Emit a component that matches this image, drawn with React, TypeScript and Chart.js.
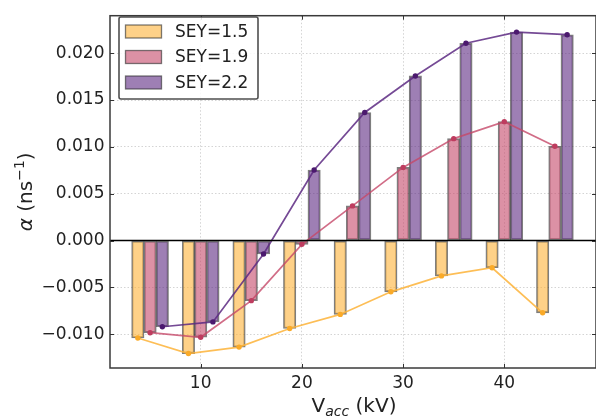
import React, { useEffect, useRef } from 'react';
import { Chart, registerables } from 'chart.js';

Chart.register(...registerables);

const voltages = [5, 10, 15, 20, 25, 30, 35, 40, 45];
const sey15 = [-0.0104, -0.01206, -0.01137, -0.00938, -0.00788, -0.00547, -0.00377, -0.0029, -0.00771];
const sey19 = [-0.00983, -0.01032, -0.00641, -0.0004, 0.0037, 0.00781, 0.01088, 0.01269, 0.01007];
const sey22 = [-0.0092, -0.00868, -0.00143, 0.00753, 0.01367, 0.01757, 0.02106, 0.02225, 0.02197];
const seriesLabels = ['SEY=1.5', 'SEY=1.9', 'SEY=2.2'];
const xTicks = [10, 20, 30, 40];
const yTicks = [-0.01, -0.005, 0, 0.005, 0.01, 0.015, 0.02];

const FONT = '"DejaVu Sans", sans-serif';
const barFills = ['rgba(253,179,56,0.6)', 'rgba(197,72,105,0.6)', 'rgba(93,42,130,0.6)'];
const lineColors = ['rgba(253,179,56,0.85)', 'rgba(197,72,105,0.8)', 'rgba(93,42,130,0.85)'];
const pointColors = ['rgb(250,170,40)', 'rgb(190,60,95)', 'rgb(75,25,110)'];
const edgeColor = 'rgba(40,40,40,0.6)';
const groupOffsets = [-1.21, 0, 1.21];

const fmtY = (v: number) => {
  if (Math.abs(v) < 1e-9) return '0.000';
  return (v < 0 ? '\u2212' : '') + Math.abs(v).toFixed(3);
};

const decorPlugin = {
  id: 'decor',
  afterDatasetsDraw(chart: any) {
    const { ctx, chartArea, scales } = chart;
    const { left, right } = chartArea;
    ctx.save();
    const y0 = scales.y.getPixelForValue(0);
    ctx.strokeStyle = '#000';
    ctx.lineWidth = 1.6;
    ctx.beginPath();
    ctx.moveTo(left, y0);
    ctx.lineTo(right, y0);
    ctx.stroke();
    ctx.restore();
  },
  afterDraw(chart: any) {
    const { ctx, chartArea, scales } = chart;
    const { left, right, top, bottom } = chartArea;
    ctx.save();
    // frame
    ctx.strokeStyle = '#3a3a3a';
    ctx.lineWidth = 1.5;
    ctx.strokeRect(left, top, right - left, bottom - top);
    // ticks (inward)
    ctx.lineWidth = 1;
    ctx.strokeStyle = '#333';
    const tl = 4;
    yTicks.forEach((v) => {
      const y = Math.round(scales.y.getPixelForValue(v)) + 0.5;
      ctx.beginPath();
      ctx.moveTo(left, y); ctx.lineTo(left + tl, y);
      ctx.moveTo(right, y); ctx.lineTo(right - tl, y);
      ctx.stroke();
    });
    xTicks.forEach((v) => {
      const x = Math.round(scales.x.getPixelForValue(v)) + 0.5;
      ctx.beginPath();
      ctx.moveTo(x, bottom); ctx.lineTo(x, bottom - tl);
      ctx.moveTo(x, top); ctx.lineTo(x, top + tl);
      ctx.stroke();
    });

    // legend
    const lx = 119, ly = 17, lw = 139, lh = 82;
    ctx.fillStyle = 'rgba(255,255,255,0.85)';
    ctx.strokeStyle = 'rgba(60,60,60,0.9)';
    ctx.lineWidth = 1.6;
    ctx.beginPath();
    if ((ctx as any).roundRect) (ctx as any).roundRect(lx, ly, lw, lh, 2);
    else ctx.rect(lx, ly, lw, lh);
    ctx.fill();
    ctx.stroke();
    seriesLabels.forEach((lab, i) => {
      const py = 25 + i * 25.5;
      ctx.fillStyle = '#fff';
      ctx.fillRect(125.5, py, 36, 13);
      ctx.fillStyle = barFills[i];
      ctx.fillRect(125.5, py, 36, 13);
      ctx.strokeStyle = edgeColor;
      ctx.lineWidth = 1.3;
      ctx.strokeRect(125.5, py, 36, 13);
      ctx.fillStyle = '#222';
      ctx.font = `17px ${FONT}`;
      ctx.textAlign = 'left';
      ctx.textBaseline = 'middle';
      ctx.fillText(lab, 175, py + 7.5);
    });

    // x title: V_acc (kV)
    ctx.fillStyle = '#222';
    ctx.textBaseline = 'alphabetic';
    ctx.textAlign = 'left';
    const big = `20px ${FONT}`;
    const small = `italic 14px ${FONT}`;
    ctx.font = big;
    const wV = ctx.measureText('V').width;
    const wRest = ctx.measureText(' (kV)').width;
    ctx.font = small;
    const wAcc = ctx.measureText('acc').width;
    const total = wV + wAcc + wRest;
    let x = 354 - total / 2;
    const by = 412;
    ctx.font = big;
    ctx.fillText('V', x, by);
    x += wV;
    ctx.font = small;
    ctx.fillText('acc', x, by + 4);
    x += wAcc;
    ctx.font = big;
    ctx.fillText(' (kV)', x, by);

    // y title: α (ns^-1)
    ctx.save();
    ctx.translate(32, (top + bottom) / 2);
    ctx.rotate(-Math.PI / 2);
    const aF = `italic 20px ${FONT}`;
    const supF = `14px ${FONT}`;
    ctx.font = aF;
    const wa = ctx.measureText('\u03b1').width;
    ctx.font = big;
    const wns = ctx.measureText(' (ns').width;
    const wcl = ctx.measureText(')').width;
    ctx.font = supF;
    const wsup = ctx.measureText('\u22121').width;
    const tot2 = wa + wns + wsup + wcl;
    let tx = -tot2 / 2;
    ctx.font = aF;
    ctx.fillText('\u03b1', tx, 0);
    tx += wa;
    ctx.font = big;
    ctx.fillText(' (ns', tx, 0);
    tx += wns;
    ctx.font = supF;
    ctx.fillText('\u22121', tx, -8);
    tx += wsup;
    ctx.font = big;
    ctx.fillText(')', tx, 0);
    ctx.restore();

    ctx.restore();
  },
};

export default function App() {
  const ref = useRef<HTMLCanvasElement | null>(null);
  useEffect(() => {
    if (!ref.current) return;
    const seriesValues = [sey15, sey19, sey22];
    const barSets = seriesValues.map((vals, i) => ({
      type: 'bar' as const,
      label: seriesLabels[i],
      data: voltages.map((v, j) => ({ x: v + groupOffsets[i], y: vals[j] })),
      backgroundColor: barFills[i],
      borderColor: edgeColor,
      borderWidth: 1.4,
      borderSkipped: false,
      barThickness: 12.4,
      grouped: false,
      order: 2,
    }));
    const lineSets = seriesValues.map((vals, i) => ({
      type: 'line' as const,
      label: seriesLabels[i] + ' line',
      data: voltages.map((v, j) => ({ x: v + groupOffsets[i], y: vals[j] })),
      borderColor: lineColors[i],
      backgroundColor: pointColors[i],
      pointBackgroundColor: pointColors[i],
      pointBorderColor: pointColors[i],
      pointRadius: 2.7,
      pointBorderWidth: 0,
      borderWidth: 1.7,
      tension: 0,
      fill: false,
      order: 1,
    }));
    const chart = new Chart(ref.current, {
      type: 'bar',
      data: { datasets: [...barSets, ...lineSets] as any },
      plugins: [decorPlugin],
      options: {
        animation: false,
        responsive: false,
        devicePixelRatio: 1,
        layout: { padding: { top: 8, left: 0, right: 2, bottom: 0 } },
        plugins: { legend: { display: false }, tooltip: { enabled: false } },
        scales: {
          x: {
            type: 'linear',
            min: 1.04,
            max: 49.06,
            offset: false,
            afterFit: (s: any) => { s.height = 52; },
            afterBuildTicks: (s: any) => { s.ticks = xTicks.map((v) => ({ value: v })); },
            grid: { color: '#d4d4d4', lineWidth: 1, drawTicks: false, offset: false },
            border: { display: false, dash: [1.5, 2] },
            ticks: {
              font: { family: FONT, size: 17 },
              color: '#222',
              padding: 5,
              maxRotation: 0,
              autoSkip: false,
              callback: (v: any) => String(v),
            },
          },
          y: {
            type: 'linear',
            min: -0.0136,
            max: 0.024,
            afterFit: (s: any) => { s.width = 110; },
            afterBuildTicks: (s: any) => { s.ticks = yTicks.map((v) => ({ value: v })); },
            grid: { color: '#d4d4d4', lineWidth: 1, drawTicks: false },
            border: { display: false, dash: [1.5, 2] },
            ticks: {
              font: { family: FONT, size: 17 },
              color: '#222',
              padding: 5.5,
              autoSkip: false,
              callback: (v: any) => fmtY(Number(v)),
            },
          },
        },
      } as any,
    });
    return () => chart.destroy();
  }, []);
  return (
    <div style={{ position: 'absolute', left: 0, top: 0, width: 596, height: 420, overflow: 'hidden' }}>
      <canvas ref={ref} width={600} height={420} style={{ display: 'block', width: 600, height: 420 }} />
    </div>
  );
}
